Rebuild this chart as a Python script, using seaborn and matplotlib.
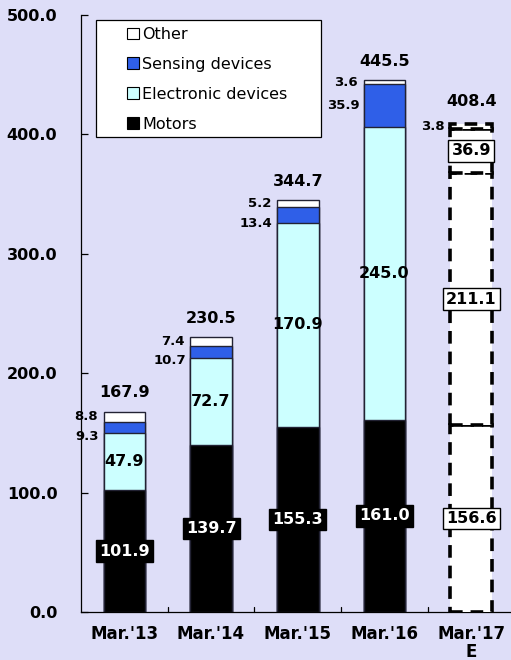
import numpy as np
import pandas as pd
import matplotlib
matplotlib.use("Agg")
import matplotlib.pyplot as plt
from matplotlib.patches import Patch, Rectangle
import seaborn as sns

# Sales by segment (billion yen), fiscal years ending March
periods = ["Mar.'13", "Mar.'14", "Mar.'15", "Mar.'16", "Mar.'17\nE"]
motors = [101.9, 139.7, 155.3, 161.0, 156.6]
electronic = [47.9, 72.7, 170.9, 245.0, 211.1]
sensing = [9.3, 10.7, 13.4, 35.9, 36.9]
other = [8.8, 7.4, 5.2, 3.6, 3.8]
totals = [167.9, 230.5, 344.7, 445.5, 408.4]
yticks = [0, 100, 200, 300, 400, 500]

segments = ["Motors", "Electronic devices", "Sensing devices", "Other"]
colors = {"Motors": "#000000", "Electronic devices": "#CCFFFF",
          "Sensing devices": "#2F5FE8", "Other": "#FFFFFF"}
values = {"Motors": motors, "Electronic devices": electronic,
          "Sensing devices": sensing, "Other": other}

BG = "#DEDEF8"
sns.set_theme(style="white")
plt.rcParams["font.family"] = ["DejaVu Sans"]
plt.rcParams["text.color"] = "black"
plt.rcParams["xtick.color"] = "black"
plt.rcParams["ytick.color"] = "black"
plt.rcParams["axes.labelcolor"] = "black"

fig = plt.figure(figsize=(5.11, 6.6), dpi=100, facecolor=BG)
ax = fig.add_axes([0.1585, 0.0727, 0.85, 0.9045])
ax.set_facecolor(BG)

n_actual = 4
bar_w = 0.48
edge = "#222233"

# Cumulative tops of each segment
cum = np.cumsum(np.array([values[s] for s in segments]), axis=0)
bottoms = np.vstack([np.zeros(len(periods)), cum[:-1]])

# Actual years: stacked bars drawn as overlapping cumulative totals
for i in range(len(segments) - 1, -1, -1):
    seg = segments[i]
    df = pd.DataFrame({"period": periods[:n_actual], "top": cum[i][:n_actual]})
    sns.barplot(data=df, x="period", y="top", order=periods, color=colors[seg],
                width=bar_w, edgecolor=edge, linewidth=1.0, saturation=1,
                ax=ax, errorbar=None)

# Forecast year: white segments with dashed outlines
xe = n_actual
for i, seg in enumerate(segments):
    ax.bar(xe, values[seg][xe], bottom=bottoms[i][xe], width=bar_w,
           color="white", edgecolor="black", linewidth=2.6,
           linestyle=(0, (3.5, 2.2)), zorder=3)

ax.set_xlim(-0.5, 4.51)
ax.set_ylim(0, 500)
ax.set_yticks(yticks)
ax.set_yticklabels([f"{v:.1f}" for v in yticks], fontsize=11.5,
                   fontweight="bold", color="black")
ax.set_xticks(range(len(periods)))
ax.set_xticklabels(periods, fontsize=12, fontweight="bold", linespacing=1.02,
                   color="black")
ax.set_xlabel("")
ax.set_ylabel("")
for s in ["top", "right"]:
    ax.spines[s].set_visible(False)
for s in ["left", "bottom"]:
    ax.spines[s].set_color("black")
    ax.spines[s].set_linewidth(0.9)
ax.tick_params(axis="y", direction="in", length=5, width=0.9, color="black",
               pad=17, left=True)
ax.tick_params(axis="x", length=0, pad=9)
# Separator ticks between categories on the baseline
for xb in np.arange(0.5, len(periods) - 1, 1.0):
    ax.plot([xb, xb], [0, 4], color="black", lw=0.9, clip_on=False, zorder=4)

# Labels
for j in range(len(periods)):
    forecast = j == xe
    # totals
    ax.annotate(f"{totals[j]:.1f}", (j, totals[j]),
                xytext=(0, 11 if forecast else 8),
                textcoords="offset points", ha="center", va="bottom",
                fontsize=11.5, fontweight="bold", color="black", zorder=6)
    # motors
    m_c = motors[j] / 2
    if forecast:
        box = dict(boxstyle="square,pad=0.2", fc="white", ec="black", lw=1)
        tc = "black"
    else:
        box = dict(boxstyle="square,pad=0.2", fc="black", ec="black", lw=1)
        tc = "white"
    ax.text(j, m_c, f"{motors[j]:.1f}", ha="center", va="center", fontsize=11.5,
            fontweight="bold", color=tc, bbox=box, zorder=6)
    # electronic devices
    e_c = motors[j] + electronic[j] / 2
    if forecast:
        wbox = dict(boxstyle="square,pad=0.2", fc="white", ec="black", lw=1)
        ax.text(j, e_c, f"{electronic[j]:.1f}", ha="center", va="center",
                fontsize=11.5, fontweight="bold", color="black", bbox=wbox,
                zorder=6)
        s_c = cum[2][j] - sensing[j] / 2
        ax.text(j, s_c, f"{sensing[j]:.1f}", ha="center", va="center",
                fontsize=11.5, fontweight="bold", color="black", bbox=wbox,
                zorder=6)
    else:
        ax.text(j, e_c, f"{electronic[j]:.1f}", ha="center", va="center",
                fontsize=11.5, fontweight="bold", color="black", zorder=6)
        # sensing devices, to the left of the bar
        o_c = cum[3][j] - other[j] / 2
        s_c = min(cum[2][j] - sensing[j] / 2, o_c - 16.5)
        ax.annotate(f"{sensing[j]:.1f}", (j - bar_w / 2, s_c), xytext=(-3, 0),
                    textcoords="offset points", ha="right", va="center",
                    fontsize=9.5, fontweight="bold", color="black", zorder=6)
    # other, to the left of the bar
    o_c = cum[3][j] - other[j] / 2
    ax.annotate(f"{other[j]:.1f}", (j - bar_w / 2, o_c), xytext=(-4, 0),
                textcoords="offset points", ha="right", va="center",
                fontsize=9.5, fontweight="bold", color="black", zorder=6)

# Legend frame, then the entries inside it (top segment first)
ax.add_patch(Rectangle((0.035, 0.795), 0.518, 0.197, transform=ax.transAxes,
                       facecolor="white", edgecolor="black", lw=0.9,
                       zorder=7, clip_on=False))
handles = [Patch(facecolor=colors[s], edgecolor="black", linewidth=0.8)
           for s in segments[::-1]]
leg = ax.legend(handles, segments[::-1], loc="upper left",
                bbox_to_anchor=(0.106, 0.98), borderaxespad=0,
                fontsize=11.5, frameon=False, handlelength=0.75,
                handleheight=0.75, handletextpad=0.2, labelspacing=0.93,
                borderpad=0)
leg.set_zorder(8)
for t in leg.get_texts():
    t.set_color("black")

fig.savefig("out.png", dpi=100, facecolor=BG)
